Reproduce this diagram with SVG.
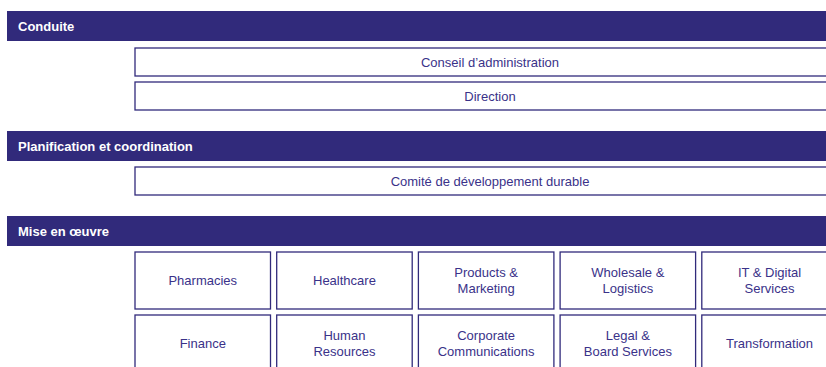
<svg xmlns="http://www.w3.org/2000/svg" width="826" height="367" viewBox="0 0 826 367">
<style>
.bar{fill:#312a7b}
.bt{font-family:"Liberation Sans",Arial,sans-serif;font-size:13px;font-weight:bold;fill:#ffffff}
.box{fill:#ffffff;stroke:#312a7b;stroke-width:1.3}
.t{font-family:"Liberation Sans",Arial,sans-serif;font-size:13px;fill:#3a3289;text-anchor:middle}
</style>
<rect width="826" height="367" fill="#ffffff"/>
<g id="conduite">
<rect class="bar" x="7" y="11" width="830" height="30"/>
<text class="bt" x="18" y="31">Conduite</text>
</g>
<g id="conseil">
<rect class="box" x="135" y="48" width="710" height="28"/>
<text class="t" x="490" y="67">Conseil d’administration</text>
</g>
<g id="direction">
<rect class="box" x="135" y="82" width="710" height="28"/>
<text class="t" x="490" y="101">Direction</text>
</g>
<g id="planification">
<rect class="bar" x="7" y="131" width="830" height="30"/>
<text class="bt" x="18" y="151">Planification et coordination</text>
</g>
<g id="comite">
<rect class="box" x="135" y="167" width="710" height="28"/>
<text class="t" x="490" y="186">Comité de développement durable</text>
</g>
<g id="mise">
<rect class="bar" x="7" y="216" width="830" height="30"/>
<text class="bt" x="18" y="236">Mise en œuvre</text>
</g>
<g id="pharmacies">
<rect class="box" x="135" y="252" width="135.5" height="57"/>
<text class="t" x="202.75" y="285">Pharmacies</text>
</g>
<g id="healthcare">
<rect class="box" x="276.7" y="252" width="135.5" height="57"/>
<text class="t" x="344.45" y="285">Healthcare</text>
</g>
<g id="products">
<rect class="box" x="418.4" y="252" width="135.5" height="57"/>
<text class="t" x="486.15" y="276.5">Products &amp;</text>
<text class="t" x="486.15" y="292.5">Marketing</text>
</g>
<g id="wholesale">
<rect class="box" x="560.1" y="252" width="135.5" height="57"/>
<text class="t" x="627.85" y="276.5">Wholesale &amp;</text>
<text class="t" x="627.85" y="292.5">Logistics</text>
</g>
<g id="it">
<rect class="box" x="701.8" y="252" width="135.5" height="57"/>
<text class="t" x="769.55" y="276.5">IT &amp; Digital</text>
<text class="t" x="769.55" y="292.5">Services</text>
</g>
<g id="finance">
<rect class="box" x="135" y="315" width="135.5" height="57"/>
<text class="t" x="202.75" y="348">Finance</text>
</g>
<g id="hr">
<rect class="box" x="276.7" y="315" width="135.5" height="57"/>
<text class="t" x="344.45" y="339.5">Human</text>
<text class="t" x="344.45" y="355.5">Resources</text>
</g>
<g id="corpcomm">
<rect class="box" x="418.4" y="315" width="135.5" height="57"/>
<text class="t" x="486.15" y="339.5">Corporate</text>
<text class="t" x="486.15" y="355.5">Communications</text>
</g>
<g id="legal">
<rect class="box" x="560.1" y="315" width="135.5" height="57"/>
<text class="t" x="627.85" y="339.5">Legal &amp;</text>
<text class="t" x="627.85" y="355.5">Board Services</text>
</g>
<g id="transformation">
<rect class="box" x="701.8" y="315" width="135.5" height="57"/>
<text class="t" x="769.55" y="348">Transformation</text>
</g>
<g id="connectors"></g>
</svg>
